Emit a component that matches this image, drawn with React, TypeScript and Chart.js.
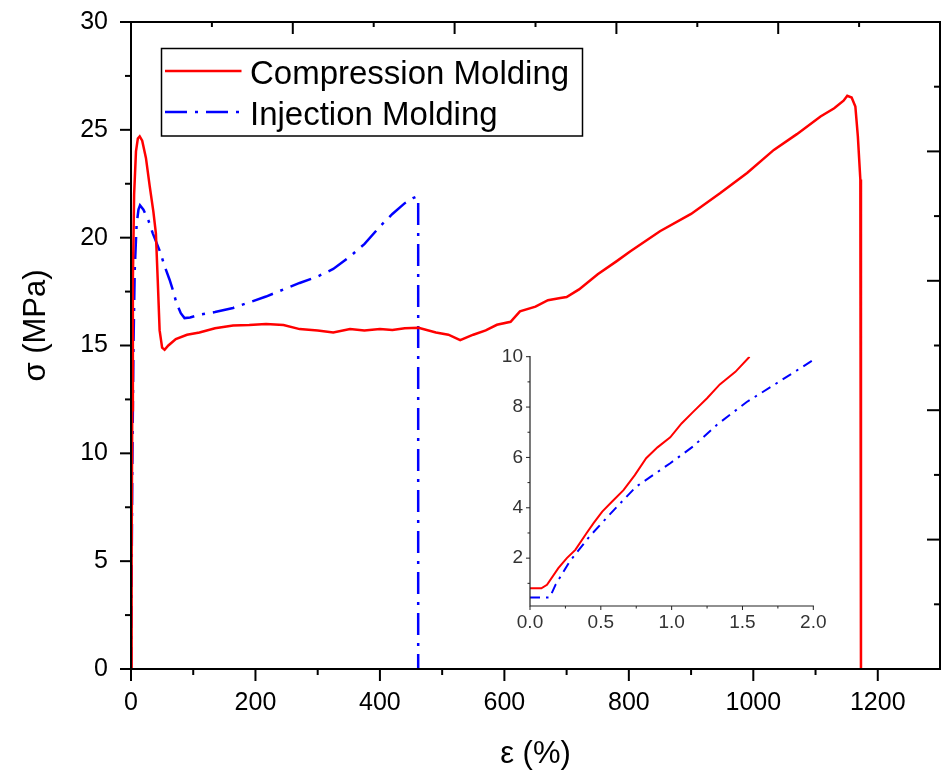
import React, { useEffect, useRef } from "react";
import { Chart, registerables } from "chart.js";

Chart.register(...registerables);

// ---------------- DATA ----------------
// Main plot: Compression Molding (strain %, stress MPa)
const cmStrain = [0, 1, 2, 3, 5, 8, 11, 14, 18, 24, 30, 36, 40, 43, 46, 50, 54, 60, 72, 90, 110, 135, 164, 190, 217, 245, 271, 300, 325, 352, 375, 400, 420, 440, 462, 490, 510, 529, 550, 570, 588, 610, 625, 650, 670, 690, 700, 720, 750, 780, 802, 850, 900, 947, 990, 1033, 1070, 1108, 1130, 1145, 1151, 1158, 1164, 1168, 1172, 1173, 1173];
const cmStress = [0, 5, 12, 18, 22, 24, 24.6, 24.7, 24.5, 23.7, 22.4, 21.2, 20.2, 18, 15.7, 14.9, 14.8, 15.0, 15.3, 15.5, 15.6, 15.8, 15.93, 15.95, 16.0, 15.95, 15.76, 15.7, 15.6, 15.76, 15.7, 15.76, 15.72, 15.8, 15.82, 15.6, 15.5, 15.25, 15.5, 15.7, 15.96, 16.1, 16.58, 16.8, 17.1, 17.2, 17.25, 17.6, 18.3, 18.9, 19.36, 20.3, 21.1, 22.07, 23.0, 24.07, 24.8, 25.62, 26.0, 26.35, 26.58, 26.5, 26.08, 24.7, 22.7, 10, 0];

// Main plot: Injection Molding
const imStrain = [0, 1, 2, 4, 6, 9, 12, 14.5, 20, 28, 35, 46, 55, 62, 68, 73, 80, 86, 95, 110, 135, 164, 190, 217, 245, 271, 300, 325, 352, 375, 400, 420, 440, 453, 459, 461.5, 461.5];
const imStress = [0, 4, 9, 15, 18.5, 20.6, 21.3, 21.5, 21.3, 20.8, 20.2, 19.4, 18.6, 18.05, 17.5, 16.97, 16.5, 16.27, 16.3, 16.43, 16.55, 16.74, 17.0, 17.27, 17.6, 17.9, 18.2, 18.55, 19.13, 19.7, 20.52, 21.1, 21.6, 21.83, 21.9, 21.8, 0];

// Inset: initial region
const insetCmStrain = [0, 0.08, 0.12, 0.2, 0.26, 0.32, 0.4, 0.45, 0.51, 0.58, 0.66, 0.74, 0.82, 0.9, 0.99, 1.07, 1.15, 1.25, 1.34, 1.45, 1.55];
const insetCmStress = [0.8, 0.8, 0.94, 1.6, 2.0, 2.33, 3.0, 3.4, 3.85, 4.25, 4.7, 5.3, 5.97, 6.4, 6.8, 7.35, 7.8, 8.35, 8.9, 9.4, 10.0];
const insetImStrain = [0, 0.14, 0.18, 0.28, 0.42, 0.59, 0.75, 0.99, 1.15, 1.32, 1.53, 1.72, 2.0];
const insetImStress = [0.44, 0.44, 0.94, 1.87, 2.86, 3.9, 4.84, 5.77, 6.43, 7.3, 8.2, 8.87, 9.87];

// Tick values
const xMajorTicks = [0, 200, 400, 600, 800, 1000, 1200];
const xMinorTicks = [100, 300, 500, 700, 900, 1100];
const yMajorTicks = [0, 5, 10, 15, 20, 25, 30];
const yMinorTicks = [2.5, 7.5, 12.5, 17.5, 22.5, 27.5];
const secMajorTicks = [2, 4, 6, 8];
const secMinorTicks = [1, 3, 5, 7, 9];
const insetXMajor = [0, 0.5, 1.0, 1.5, 2.0];
const insetXMinor = [0.25, 0.75, 1.25, 1.75];
const insetYMajor = [2, 4, 6, 8, 10];
const insetYMinor = [1, 3, 5, 7, 9];

const seriesLabels = ["Compression Molding", "Injection Molding"];
const xTitle = "ε (%)";
const yTitle = "σ (MPa)";

// ---------------- STYLE ----------------
const FONT = '"Liberation Sans", Arial, Helvetica, sans-serif';
const RED = "#ff0000";
const BLUE = "#0000ff";

type TickSpec = {
  axis: string;
  edge: "top" | "bottom" | "left" | "right";
  sign: number;
  major: number[];
  minor: number[];
  majorLen: number;
  minorLen: number;
};

function makeTickPlugin(id: string, specs: TickSpec[], edges: string[], lineWidth: number, color: string, tickWidth: number) {
  return {
    id,
    afterDraw(chart: any) {
      const ctx = chart.ctx;
      const a = chart.chartArea;
      ctx.save();
      ctx.strokeStyle = color;
      ctx.lineCap = "butt";
      for (const spec of specs) {
        const s = chart.scales[spec.axis];
        ctx.lineWidth = tickWidth;
        const draw = (v: number, len: number) => {
          const p = s.getPixelForValue(v);
          ctx.beginPath();
          if (spec.edge === "bottom" || spec.edge === "top") {
            const y0 = spec.edge === "bottom" ? a.bottom : a.top;
            ctx.moveTo(p, y0);
            ctx.lineTo(p, y0 + spec.sign * len);
          } else {
            const x0 = spec.edge === "left" ? a.left : a.right;
            ctx.moveTo(x0, p);
            ctx.lineTo(x0 + spec.sign * len, p);
          }
          ctx.stroke();
        };
        spec.major.forEach((v) => draw(v, spec.majorLen));
        spec.minor.forEach((v) => draw(v, spec.minorLen));
      }
      ctx.lineWidth = lineWidth;
      ctx.lineCap = "square";
      ctx.beginPath();
      if (edges.includes("top")) { ctx.moveTo(a.left, a.top); ctx.lineTo(a.right, a.top); }
      if (edges.includes("bottom")) { ctx.moveTo(a.left, a.bottom); ctx.lineTo(a.right, a.bottom); }
      if (edges.includes("left")) { ctx.moveTo(a.left, a.top); ctx.lineTo(a.left, a.bottom); }
      if (edges.includes("right")) { ctx.moveTo(a.right, a.top); ctx.lineTo(a.right, a.bottom); }
      ctx.stroke();
      ctx.restore();
    },
  };
}

const legendAndTitlesPlugin = {
  id: "legendAndTitles",
  afterDraw(chart: any) {
    const ctx = chart.ctx;
    const a = chart.chartArea;
    ctx.save();
    // Legend box
    const bx = a.left + 30.5;
    const by = a.top + 26.5;
    const bw = 421;
    const bh = 87.5;
    ctx.strokeStyle = "#000";
    ctx.lineWidth = 1.5;
    ctx.strokeRect(bx, by, bw, bh);
    ctx.font = `33px ${FONT}`;
    ctx.fillStyle = "#000";
    ctx.textAlign = "left";
    ctx.textBaseline = "alphabetic";
    chart.data.datasets.forEach((ds: any, i: number) => {
      const ly = by + 22.5 + i * 41;
      ctx.save();
      ctx.strokeStyle = ds.borderColor;
      ctx.lineWidth = 2.5;
      ctx.setLineDash(ds.borderDash || []);
      ctx.beginPath();
      ctx.moveTo(bx + 3.5, ly);
      ctx.lineTo(bx + 80, ly);
      ctx.stroke();
      ctx.restore();
      ctx.fillText(ds.label, bx + 88.5, ly + 12.5);
    });
    // Axis titles
    ctx.font = `31px ${FONT}`;
    ctx.textAlign = "center";
    ctx.fillText(xTitle, (a.left + a.right) / 2, 763);
    ctx.save();
    ctx.translate(45, (a.top + a.bottom) / 2 - 20);
    ctx.rotate(-Math.PI / 2);
    ctx.fillText(yTitle, 0, 0);
    ctx.restore();
    ctx.restore();
  },
};

const setTicks = (values: number[]) => (scale: any) => {
  scale.ticks = values.map((v) => ({ value: v }));
};

const fixSize = (dim: "width" | "height", size: number) => (s: any) => {
  s[dim] = size;
  s.paddingTop = 0;
  s.paddingBottom = 0;
  s.paddingLeft = 0;
  s.paddingRight = 0;
};

function MainChart() {
  const ref = useRef<HTMLCanvasElement | null>(null);
  useEffect(() => {
    if (!ref.current) return;
    const tickPlugin = makeTickPlugin(
      "mainTicks",
      [
        { axis: "x", edge: "bottom", sign: 1, major: xMajorTicks, minor: xMinorTicks, majorLen: 12, minorLen: 6 },
        { axis: "y", edge: "left", sign: -1, major: yMajorTicks, minor: yMinorTicks, majorLen: 11, minorLen: 6 },
        { axis: "xTop", edge: "top", sign: 1, major: secMajorTicks, minor: secMinorTicks, majorLen: 12, minorLen: 5 },
        { axis: "yRight", edge: "right", sign: -1, major: secMajorTicks, minor: secMinorTicks, majorLen: 13, minorLen: 6 },
      ],
      ["top", "bottom", "left", "right"],
      2,
      "#000",
      2
    );
    const chart = new Chart(ref.current, {
      type: "line",
      data: {
        datasets: [
          {
            label: seriesLabels[0],
            data: cmStrain.map((x, i) => ({ x, y: cmStress[i] })),
            borderColor: RED,
            backgroundColor: RED,
            borderWidth: 2.5,
            pointRadius: 0,
            tension: 0,
            fill: false,
            xAxisID: "x",
            yAxisID: "y",
          },
          {
            label: seriesLabels[1],
            data: imStrain.map((x, i) => ({ x, y: imStress[i] })),
            borderColor: BLUE,
            backgroundColor: BLUE,
            borderWidth: 2.5,
            borderDash: [22, 8, 3, 8],
            pointRadius: 0,
            tension: 0,
            fill: false,
            xAxisID: "x",
            yAxisID: "y",
          },
        ],
      },
      options: {
        animation: false,
        responsive: false,
        maintainAspectRatio: false,
        layout: { padding: 0 },
        plugins: { legend: { display: false }, tooltip: { enabled: false } },
        scales: {
          x: {
            type: "linear",
            position: "bottom",
            min: 0,
            max: 1300,
            afterBuildTicks: setTicks(xMajorTicks),
            afterFit: fixSize("height", 102),
            grid: { display: false, drawTicks: false },
            border: { display: false },
            ticks: {
              font: { family: FONT, size: 25 },
              color: "#000",
              padding: 19,
              maxRotation: 0,
              autoSkip: false,
              callback: (v: any) => String(v),
            },
          },
          y: {
            type: "linear",
            position: "left",
            min: 0,
            max: 30,
            afterBuildTicks: setTicks(yMajorTicks),
            afterFit: fixSize("width", 131),
            grid: { display: false, drawTicks: false },
            border: { display: false },
            ticks: { font: { family: FONT, size: 25 }, color: "#000", padding: 23, autoSkip: false, callback: (v: any) => String(v) },
          },
          xTop: {
            type: "linear",
            position: "top",
            min: 0,
            max: 10,
            afterFit: fixSize("height", 22),
            grid: { display: false, drawTicks: false },
            border: { display: false },
            ticks: { display: false },
          },
          yRight: {
            type: "linear",
            position: "right",
            min: 0,
            max: 10,
            afterFit: fixSize("width", 1),
            grid: { display: false, drawTicks: false },
            border: { display: false },
            ticks: { display: false },
          },
        },
      } as any,
      plugins: [tickPlugin, legendAndTitlesPlugin],
    });
    return () => chart.destroy();
  }, []);
  return <canvas ref={ref} width={941} height={771} style={{ position: "absolute", left: 0, top: 0, width: 941, height: 771 }} />;
}

function InsetChart() {
  const ref = useRef<HTMLCanvasElement | null>(null);
  useEffect(() => {
    if (!ref.current) return;
    const tickPlugin = makeTickPlugin(
      "insetTicks",
      [
        { axis: "x", edge: "bottom", sign: 1, major: insetXMajor, minor: insetXMinor, majorLen: 4, minorLen: 2.5 },
        { axis: "y", edge: "left", sign: -1, major: insetYMajor, minor: insetYMinor, majorLen: 4, minorLen: 2.5 },
      ],
      ["bottom", "left"],
      1.2,
      "#222",
      1
    );
    const chart = new Chart(ref.current, {
      type: "line",
      data: {
        datasets: [
          {
            label: seriesLabels[0],
            data: insetCmStrain.map((x, i) => ({ x, y: insetCmStress[i] })),
            borderColor: RED,
            borderWidth: 2,
            pointRadius: 0,
            tension: 0,
            fill: false,
          },
          {
            label: seriesLabels[1],
            data: insetImStrain.map((x, i) => ({ x, y: insetImStress[i] })),
            borderColor: BLUE,
            borderWidth: 2,
            borderDash: [10, 6, 2.5, 6],
            pointRadius: 0,
            tension: 0,
            fill: false,
          },
        ],
      },
      options: {
        animation: false,
        responsive: false,
        maintainAspectRatio: false,
        layout: { padding: { top: 26.7, right: 36.7, left: 0, bottom: 0 } },
        plugins: { legend: { display: false }, tooltip: { enabled: false } },
        scales: {
          x: {
            type: "linear",
            position: "bottom",
            min: 0,
            max: 2,
            afterBuildTicks: setTicks(insetXMajor),
            afterFit: fixSize("height", 34),
            grid: { display: false, drawTicks: false },
            border: { display: false },
            ticks: {
              font: { family: FONT, size: 19 },
              color: "#333",
              padding: 5,
              maxRotation: 0,
              autoSkip: false,
              callback: (v: any) => Number(v).toFixed(1),
            },
          },
          y: {
            type: "linear",
            position: "left",
            min: 0.1,
            max: 10,
            afterBuildTicks: setTicks(insetYMajor),
            afterFit: fixSize("width", 60),
            grid: { display: false, drawTicks: false },
            border: { display: false },
            ticks: { font: { family: FONT, size: 19 }, color: "#333", padding: 7, autoSkip: false },
          },
        },
      } as any,
      plugins: [tickPlugin],
    });
    return () => chart.destroy();
  }, []);
  return <canvas ref={ref} width={380} height={310} style={{ position: "absolute", left: 470, top: 330, width: 380, height: 310 }} />;
}

export default function App() {
  return (
    <div style={{ position: "fixed", left: 0, top: 0, width: 941, height: 771, background: "#fff", overflow: "hidden" }}>
      <MainChart />
      <InsetChart />
    </div>
  );
}
